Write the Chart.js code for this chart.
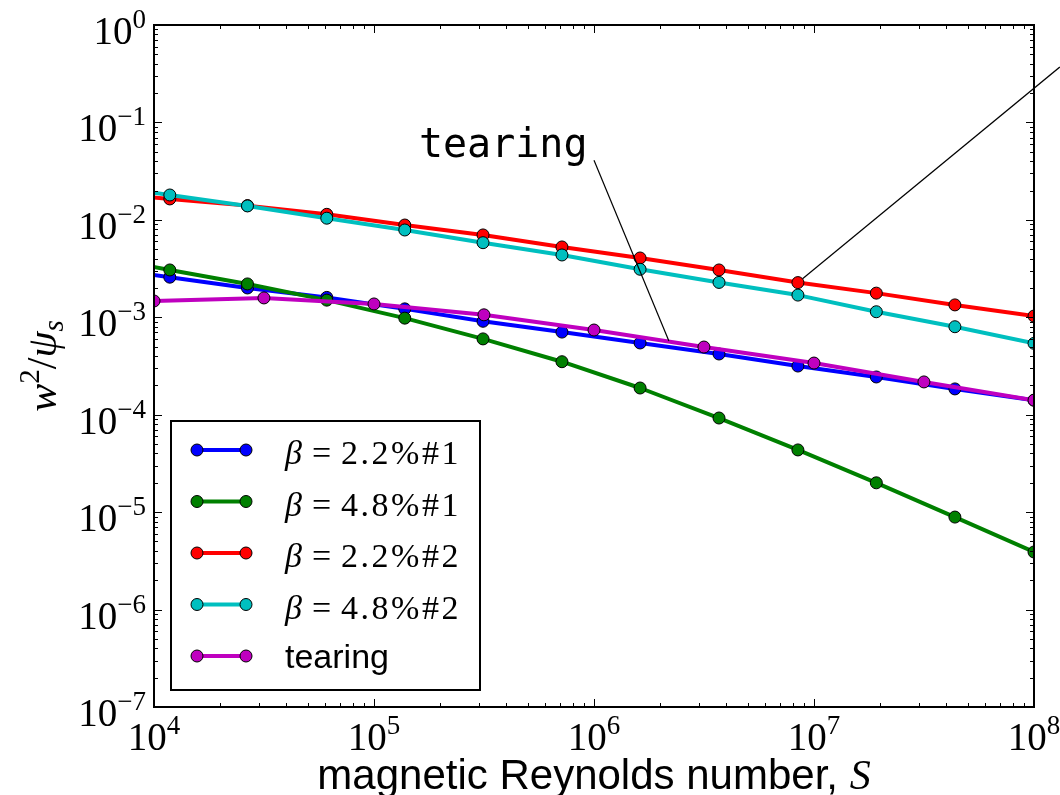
<!DOCTYPE html>
<html>
<head>
<meta charset="utf-8">
<script src="https://cdn.jsdelivr.net/npm/chart.js@4.4.1/dist/chart.umd.min.js"></script>
<style>
  html, body { margin: 0; padding: 0; background: #fff; }
  #wrap { width: 1060px; height: 795px; }
</style>
</head>
<body>
<div id="wrap"><canvas id="chart" width="1060" height="795"></canvas></div>
<script>
// S values of the beta scans (the first one lies left of the axis and gets clipped)
const sBeta = [5.2e3, 1.18e4, 2.66e4, 6.1e4, 1.38e5, 3.13e5, 7.15e5, 1.62e6, 3.7e6, 8.45e6, 1.92e7, 4.37e7, 1e8];
const beta22n1 = [3.37e-3, 2.58e-3, 2.0e-3, 1.6e-3, 1.22e-3, 9.1e-4, 7.05e-4, 5.45e-4, 4.2e-4, 3.16e-4, 2.44e-4, 1.84e-4, 1.41e-4];
const beta48n1 = [4.3e-3, 3.06e-3, 2.2e-3, 1.5e-3, 9.8e-4, 6.0e-4, 3.5e-4, 1.88e-4, 9.25e-5, 4.35e-5, 2.0e-5, 8.9e-6, 3.9e-6];
const beta22n2 = [1.96e-2, 1.64e-2, 1.4e-2, 1.14e-2, 8.85e-3, 7.0e-3, 5.27e-3, 4.06e-3, 3.06e-3, 2.27e-3, 1.77e-3, 1.34e-3, 1.03e-3];
const beta48n2 = [2.34e-2, 1.8e-2, 1.39e-2, 1.04e-2, 7.87e-3, 5.83e-3, 4.36e-3, 3.11e-3, 2.28e-3, 1.69e-3, 1.14e-3, 8.0e-4, 5.4e-4];

// tearing scan
const sTearing = [1e4, 3.16e4, 1e5, 3.16e5, 1e6, 3.16e6, 1e7, 3.16e7, 1e8];
const tearing = [1.47e-3, 1.58e-3, 1.37e-3, 1.06e-3, 7.4e-4, 4.95e-4, 3.39e-4, 2.17e-4, 1.41e-4];

const seriesLabels = ['β = 2.2%#1', 'β = 4.8%#1', 'β = 2.2%#2', 'β = 4.8%#2', 'tearing'];
const seriesColors = ['#0000ff', '#008000', '#ff0000', '#00bfbf', '#bf00bf'];

const xTickExps = [4, 5, 6, 7, 8];
const yTickExps = [0, -1, -2, -3, -4, -5, -6, -7];

// annotations, in data units
const tearNote = 'tearing';
const tearNoteAt = [1.6e5, 4.4e-2];
const tearArrow = [[1.0e6, 4.1e-2], [2.19e6, 5.7e-4]];
const betaArrow = [[8.45e6, 2.27e-3], [1.31e8, 0.37]];

const serif = '"Liberation Serif", "Times New Roman", serif';
const sans = '"Liberation Sans", Arial, sans-serif';

function pts(xs, ys) {
  return xs.map((x, i) => ({x: x, y: ys[i]}));
}

const seriesData = [
  pts(sBeta, beta22n1),
  pts(sBeta, beta48n1),
  pts(sBeta, beta22n2),
  pts(sBeta, beta48n2),
  pts(sTearing, tearing)
];

function supText(e) {
  return e < 0 ? '\u2212' + (-e) : String(e);
}

function drawPow(ctx, e, x, y, align) {
  ctx.font = '39px ' + serif;
  const wb = ctx.measureText('10').width;
  ctx.font = '27px ' + serif;
  const ws = ctx.measureText(supText(e)).width;
  let left = align === 'center' ? x - (wb + ws) / 2 : x - (wb + ws);
  ctx.textAlign = 'left';
  ctx.textBaseline = 'alphabetic';
  ctx.font = '39px ' + serif;
  ctx.fillText('10', left, y);
  ctx.font = '27px ' + serif;
  ctx.fillText(supText(e), left + wb, y - 16);
}

// draw a string glyph by glyph with some extra room, a bit like TeX spacing
function spaced(ctx, str, x, y, gap) {
  for (const ch of str) {
    ctx.fillText(ch, x, y);
    x += ctx.measureText(ch).width + gap;
  }
  return x;
}

const axesPlugin = {
  id: 'axesPlugin',
  afterDraw(chart) {
    const ctx = chart.ctx;
    const a = chart.chartArea;
    const x = chart.scales.x, y = chart.scales.y;
    ctx.save();
    ctx.fillStyle = '#000';
    ctx.strokeStyle = '#000';
    ctx.textAlign = 'left';
    ctx.textBaseline = 'alphabetic';

    // annotation lines
    ctx.lineWidth = 1.2;
    let p0 = [x.getPixelForValue(tearArrow[0][0]), y.getPixelForValue(tearArrow[0][1])];
    let p1 = [x.getPixelForValue(tearArrow[1][0]), y.getPixelForValue(tearArrow[1][1])];
    ctx.beginPath(); ctx.moveTo(p0[0], p0[1]); ctx.lineTo(p1[0], p1[1]); ctx.stroke();
    p0 = [x.getPixelForValue(betaArrow[0][0]), y.getPixelForValue(betaArrow[0][1])];
    p1 = [x.getPixelForValue(betaArrow[1][0]), y.getPixelForValue(betaArrow[1][1])];
    const len = Math.hypot(p1[0] - p0[0], p1[1] - p0[1]);
    const sx = p0[0] + (p1[0] - p0[0]) * 6 / len, sy = p0[1] + (p1[1] - p0[1]) * 6 / len;
    ctx.beginPath(); ctx.moveTo(sx, sy); ctx.lineTo(p1[0], p1[1]); ctx.stroke();

    ctx.font = '40px "DejaVu Sans Mono", monospace';
    ctx.fillText(tearNote, x.getPixelForValue(tearNoteAt[0]), y.getPixelForValue(tearNoteAt[1]));

    // ticks, inward on all four sides
    ctx.lineWidth = 1;
    ctx.beginPath();
    xTickExps.forEach(e => {
      const px = Math.round(x.getPixelForValue(Math.pow(10, e))) + 0.5;
      ctx.moveTo(px, a.bottom); ctx.lineTo(px, a.bottom - 8);
      ctx.moveTo(px, a.top); ctx.lineTo(px, a.top + 8);
      if (e < 8) {
        for (let k = 2; k <= 9; k++) {
          const mx = Math.round(x.getPixelForValue(k * Math.pow(10, e))) + 0.5;
          ctx.moveTo(mx, a.bottom); ctx.lineTo(mx, a.bottom - 4);
          ctx.moveTo(mx, a.top); ctx.lineTo(mx, a.top + 4);
        }
      }
    });
    yTickExps.forEach(e => {
      const py = Math.round(y.getPixelForValue(Math.pow(10, e))) + 0.5;
      ctx.moveTo(a.left, py); ctx.lineTo(a.left + 8, py);
      ctx.moveTo(a.right, py); ctx.lineTo(a.right - 8, py);
      if (e > -7) {
        for (let k = 2; k <= 9; k++) {
          const my = Math.round(y.getPixelForValue(k * Math.pow(10, e - 1))) + 0.5;
          ctx.moveTo(a.left, my); ctx.lineTo(a.left + 4, my);
          ctx.moveTo(a.right, my); ctx.lineTo(a.right - 4, my);
        }
      }
    });
    ctx.stroke();

    // frame
    ctx.lineWidth = 2;
    ctx.strokeRect(a.left, a.top, a.right - a.left, a.bottom - a.top);

    // tick labels
    xTickExps.forEach(e => drawPow(ctx, e, x.getPixelForValue(Math.pow(10, e)), a.bottom + 43, 'center'));
    yTickExps.forEach(e => drawPow(ctx, e, a.left - 8, y.getPixelForValue(Math.pow(10, e)) + 19, 'right'));

    // x title
    ctx.font = '42px ' + sans;
    const t1 = 'magnetic Reynolds number, ';
    const w1 = ctx.measureText(t1).width;
    ctx.font = 'italic 42px ' + serif;
    const w2 = ctx.measureText('S').width;
    const cx = (a.left + a.right) / 2;
    ctx.font = '42px ' + sans;
    ctx.fillText(t1, cx - (w1 + w2) / 2, 789);
    ctx.font = 'italic 42px ' + serif;
    ctx.fillText('S', cx - (w1 + w2) / 2 + w1, 789);

    // y title, rotated
    ctx.save();
    ctx.translate(56, (a.top + a.bottom) / 2);
    ctx.rotate(-Math.PI / 2);
    const parts = [
      {t: 'w', f: 'italic 42px ' + serif, dy: 0},
      {t: '2', f: '29px ' + serif, dy: -17},
      {t: '/', f: '42px ' + serif, dy: 0},
      {t: 'ψ', f: 'italic 42px ' + serif, dy: 0},
      {t: 's', f: 'italic 29px ' + serif, dy: 7}
    ];
    let tw = 0;
    parts.forEach(p => { ctx.font = p.f; p.w = ctx.measureText(p.t).width; tw += p.w; });
    let ox = -tw / 2;
    parts.forEach(p => { ctx.font = p.f; ctx.fillText(p.t, ox, p.dy); ox += p.w; });
    ctx.restore();

    // legend
    const lx = 171, ly = 421, lw = 309, lh = 269;
    ctx.fillStyle = '#fff';
    ctx.fillRect(lx, ly, lw, lh);
    ctx.lineWidth = 2;
    ctx.strokeStyle = '#000';
    ctx.strokeRect(lx, ly, lw, lh);
    chart.data.datasets.forEach((ds, i) => {
      const ry = 450 + i * 51.5;
      ctx.strokeStyle = ds.borderColor;
      ctx.lineWidth = 4;
      ctx.beginPath(); ctx.moveTo(197, ry); ctx.lineTo(246, ry); ctx.stroke();
      [197, 246].forEach(mx => {
        ctx.beginPath();
        ctx.arc(mx, ry, 6, 0, Math.PI * 2);
        ctx.fillStyle = ds.borderColor;
        ctx.fill();
        ctx.lineWidth = 1;
        ctx.strokeStyle = '#000';
        ctx.stroke();
      });
      ctx.fillStyle = '#000';
      const lab = ds.label;
      if (lab.startsWith('β')) {
        let tx = 285;
        const by = ry + 14;
        ctx.font = 'italic 34px ' + serif;
        ctx.fillText('β', tx, by);
        tx += ctx.measureText('β').width + 10;
        ctx.font = '34px ' + serif;
        ctx.fillText('=', tx, by);
        tx += ctx.measureText('=').width + 10;
        spaced(ctx, lab.slice(4), tx, by, 2.5);
      } else {
        ctx.font = '34px ' + sans;
        ctx.fillText(lab, 285, ry + 12);
      }
    });
    ctx.restore();
  }
};

new Chart(document.getElementById('chart'), {
  type: 'line',
  data: {
    datasets: seriesLabels.map((label, i) => ({
      label: label,
      data: seriesData[i],
      borderColor: seriesColors[i],
      backgroundColor: seriesColors[i],
      borderWidth: 4,
      borderJoinStyle: 'round',
      pointRadius: 6,
      pointHoverRadius: 6,
      pointBackgroundColor: seriesColors[i],
      pointBorderColor: '#000',
      pointBorderWidth: 1,
      tension: 0,
      fill: false,
      order: seriesLabels.length - i
    }))
  },
  options: {
    responsive: false,
    animation: false,
    devicePixelRatio: 1,
    events: [],
    layout: {
      padding: {left: 154, top: 25, right: 26, bottom: 88}
    },
    scales: {
      x: {type: 'logarithmic', min: 1e4, max: 1e8, display: false},
      y: {type: 'logarithmic', min: 1e-7, max: 1, display: false}
    },
    plugins: {
      legend: {display: false},
      tooltip: {enabled: false}
    }
  },
  plugins: [axesPlugin]
});
</script>
</body>
</html>
